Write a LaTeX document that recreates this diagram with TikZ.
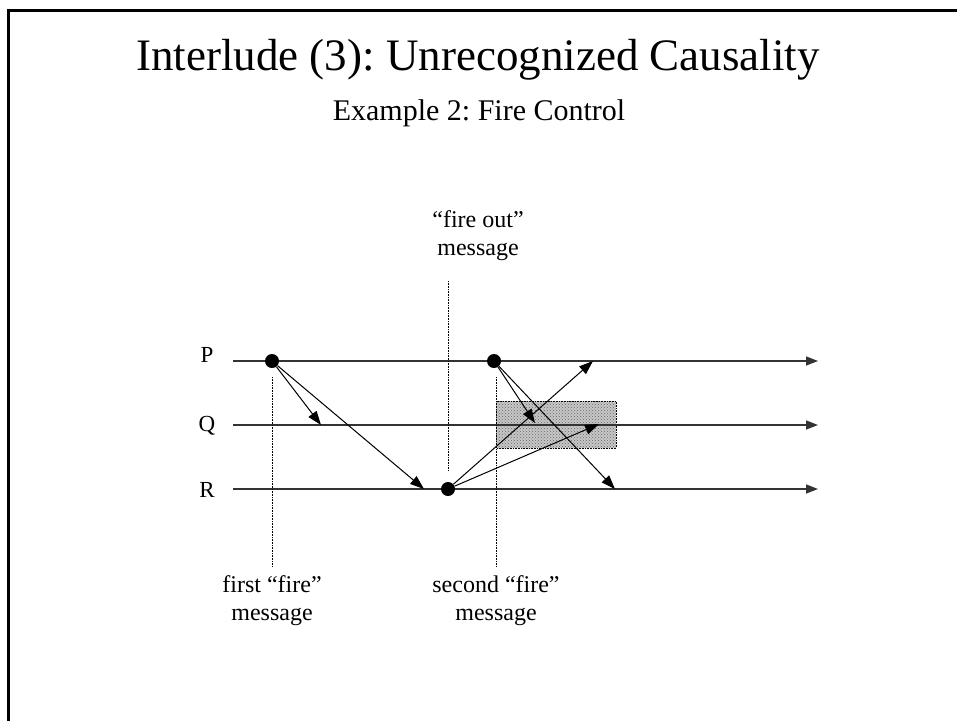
\documentclass[tikz,border=0pt]{standalone}
\usepackage{fontspec}
\setmainfont{Liberation Serif}
\usetikzlibrary{arrows.meta,patterns}
\frenchspacing
\begin{document}
\begin{tikzpicture}[x=1pt,y=-1pt,
  proc/.style={draw=black!80,line width=1.4pt,-{Triangle[length=12pt,width=9pt]}},
  msg/.style={draw=black,line width=1pt,-{Triangle[length=14pt,width=10pt]}},
  ev/.style={circle,fill=black,inner sep=0pt,minimum size=14pt},
  guide/.style={draw=black,line width=0.6pt,densely dotted},
  lbl/.style={font=\fontsize{24}{28}\selectfont,align=center,inner sep=0pt},
  plbl/.style={font=\fontsize{23}{28}\selectfont,inner sep=0pt}]
\useasboundingbox (0,0) rectangle (957,721);
% frame
\draw[line width=3pt] (8.5,721) -- (8.5,10.5) -- (957,10.5);
% titles
\node[font=\fontsize{45}{52}\selectfont,inner sep=0pt] (title) at (478,60) {Interlude (3): Unrecognized Causality};
\node[font=\fontsize{30}{35}\selectfont,inner sep=0pt] (sub) at (479,113) {Example 2: Fire Control};
% shaded region
\fill[black!22] (496,401) rectangle (616,448);
\draw[densely dotted,line width=0.6pt,pattern=crosshatch dots,pattern color=black!60] (496,401) rectangle (616,448);
% process lines
\coordinate (Ps) at (233,361); \coordinate (Pe) at (818,361);
\coordinate (Qs) at (233,425); \coordinate (Qe) at (818,425);
\coordinate (Rs) at (233,489); \coordinate (Re) at (818,489);
\draw[proc] (Ps) -- (Pe);
\draw[proc] (Qs) -- (Qe);
\draw[proc] (Rs) -- (Re);
\node[plbl] (P) at (207,355) {P};
\node[plbl] (Q) at (207,426) {Q};
\node[plbl] (R) at (207,490) {R};
% guides
\coordinate (g1a) at (272,377); \coordinate (g1b) at (272,566);
\coordinate (g2a) at (448,281); \coordinate (g2b) at (448,470);
\coordinate (g3a) at (496,377); \coordinate (g3b) at (496,566);
\draw[guide] (g1a) -- (g1b);
\draw[guide] (g2a) -- (g2b);
\draw[guide] (g3a) -- (g3b);
% events
\node[ev] (e1) at (272,361) {};
\node[ev] (e2) at (448,489) {};
\node[ev] (e3) at (494,361) {};
% message ends
\coordinate (m1) at (321,425);
\coordinate (m2) at (424,489);
\coordinate (m3) at (535,423);
\coordinate (m4) at (615,489);
\coordinate (m5) at (593,361);
\coordinate (m6) at (599,424);
\draw[msg] (e1) -- (m1);
\draw[msg] (e1) -- (m2);
\draw[msg] (e3) -- (m3);
\draw[msg] (e3) -- (m4);
\draw[msg] (e2) -- (m5);
\draw[msg] (e2) -- (m6);
% labels
\node[lbl] (l1) at (478,236) {``fire out''\\message};
\node[lbl] (l2) at (272,601) {first ``fire''\\message};
\node[lbl] (l3) at (496,601) {second ``fire''\\message};
\end{tikzpicture}
\end{document}
